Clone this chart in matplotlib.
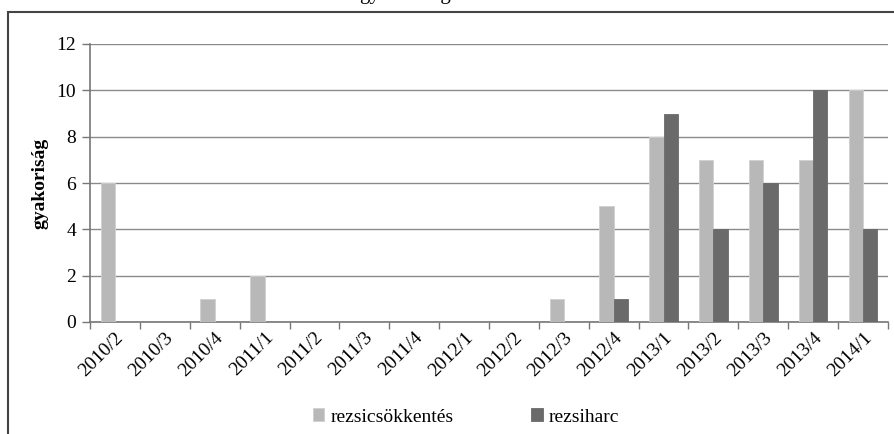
import matplotlib.pyplot as plt
import numpy as np
from matplotlib.patches import Rectangle

plt.rcParams['font.family'] = ['Liberation Serif', 'DejaVu Serif']

categories = ['2010/2', '2010/3', '2010/4', '2011/1', '2011/2', '2011/3', '2011/4',
              '2012/1', '2012/2', '2012/3', '2012/4', '2013/1', '2013/2', '2013/3',
              '2013/4', '2014/1']
rezsicsokkentes = [6, 0, 1, 2, 0, 0, 0, 0, 0, 1, 5, 8, 7, 7, 7, 10]
rezsiharc = [0, 0, 0, 0, 0, 0, 0, 0, 0, 0, 1, 9, 4, 6, 10, 4]

W, H = 895, 434
fig = plt.figure(figsize=(W / 100, H / 100), dpi=100)
ax = fig.add_axes([90 / W, 1 - 322 / H, 798 / W, 278 / H])

x = np.arange(len(categories))
bw = 0.286
ax.bar(x - bw / 2, rezsicsokkentes, bw, color='#b8b8b8', edgecolor='#d0d0d0',
       linewidth=0.6, label='rezsicsökkentés', zorder=3)
ax.bar(x + bw / 2, rezsiharc, bw, color='#6a6a6a', edgecolor='#6a6a6a',
       linewidth=0.6, label='rezsiharc', zorder=3)

ax.set_xlim(-0.5, len(categories) - 0.5)
ax.set_ylim(0, 12)
ax.set_yticks(range(0, 13, 2))
ax.yaxis.grid(True, color='#8a8a8a', linewidth=1.0, zorder=0)
ax.set_xticks(x)
ax.set_xticklabels(categories, rotation=45, ha='right', rotation_mode='anchor', fontsize=14)
ax.set_xticks(np.arange(-0.5, len(categories)), minor=True)
ax.tick_params(axis='x', which='major', length=0, pad=5)
ax.tick_params(axis='x', which='minor', length=5, color='#777777', width=1)
ax.tick_params(axis='y', length=6, color='#777777', width=1, labelsize=14, pad=4)

for side in ['top', 'right']:
    ax.spines[side].set_visible(False)
for side in ['left', 'bottom']:
    ax.spines[side].set_color('#777777')
    ax.spines[side].set_linewidth(1.2)

ax.set_ylabel('gyakoriság', fontsize=14, fontweight='bold', labelpad=6)

ax.legend(loc='center', bbox_to_anchor=(466 / W, 1 - 417 / H), bbox_transform=fig.transFigure,
          ncol=2, frameon=False, fontsize=14, handlelength=0.6, handleheight=0.6,
          handletextpad=0.3, columnspacing=4.0)

# outer chart frame, cropped at right and bottom
fig.patches.append(Rectangle((8 / W, -0.1), 1.2, 1 - 12 / H + 0.1, transform=fig.transFigure,
                             fill=False, edgecolor='#444444', linewidth=1.5))
# title cut off at top edge, only descenders show
fig.text(405 / W, 1 + 1 / H, 'gyakoriság', ha='center', va='baseline', fontsize=15)

fig.savefig('out.png', dpi=100)
